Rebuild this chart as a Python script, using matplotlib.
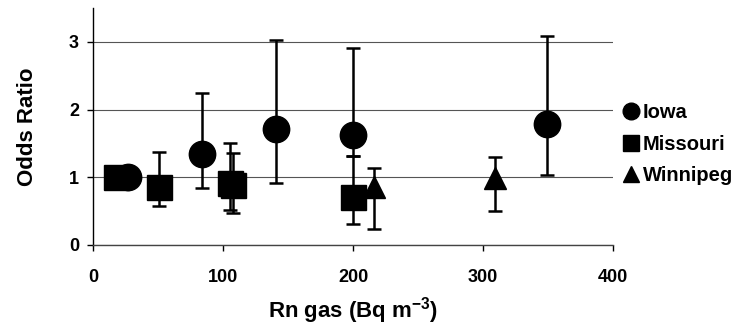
import matplotlib
matplotlib.use("Agg")
import matplotlib.pyplot as plt
from matplotlib.lines import Line2D

# ----
# Data
# ----
iowa_x = [27, 84, 141, 200, 349]
iowa_or = [1.00, 1.34, 1.72, 1.62, 1.79]
iowa_lo = [1.00, 0.84, 0.92, 1.31, 1.04]
iowa_hi = [1.00, 2.24, 3.03, 2.91, 3.09]

missouri_x = [18, 51, 105, 108, 200]
missouri_or = [1.00, 0.86, 0.91, 0.88, 0.71]
missouri_lo = [1.00, 0.57, 0.51, 0.47, 0.31]
missouri_hi = [1.00, 1.37, 1.50, 1.36, 1.31]

winnipeg_x = [216, 309]
winnipeg_or = [0.86, 0.99]
winnipeg_lo = [0.24, 0.50]
winnipeg_hi = [1.13, 1.30]

x_ticks = [0, 100, 200, 300, 400]
y_ticks = [0, 1, 2, 3]

plt.rcParams["font.family"] = ["Liberation Sans", "DejaVu Sans"]
plt.rcParams["font.weight"] = "bold"
plt.rcParams["mathtext.fontset"] = "custom"
plt.rcParams["mathtext.rm"] = "Liberation Sans:bold"
plt.rcParams["mathtext.default"] = "rm"

fig = plt.figure(figsize=(7.37, 3.33), dpi=100)
ax = fig.add_axes([0.1262, 0.2643, 0.7056, 0.7117])

series = [
    ("Iowa", "o", 19, iowa_x, iowa_or, iowa_lo, iowa_hi),
    ("Missouri", "s", 18, missouri_x, missouri_or, missouri_lo, missouri_hi),
    ("Winnipeg", "^", 16, winnipeg_x, winnipeg_or, winnipeg_lo, winnipeg_hi),
]

for name, marker, ms, xs, ors, los, his in series:
    yerr = [[o - l for o, l in zip(ors, los)], [h - o for o, h in zip(ors, his)]]
    ax.errorbar(xs, ors, yerr=yerr, fmt=marker, color="black", ms=ms,
                ecolor="black", elinewidth=1.8, capsize=4.7, capthick=1.8,
                zorder=3)

ax.set_xlim(0, 400)
ax.set_ylim(0, 3.5)
ax.set_xticks(x_ticks)
ax.set_yticks(y_ticks)
ax.yaxis.grid(True, color="#555555", linewidth=0.8)
ax.set_axisbelow(True)

for side in ["top", "right"]:
    ax.spines[side].set_visible(False)
ax.spines["left"].set_linewidth(1.0)
ax.spines["bottom"].set_linewidth(1.0)
ax.spines["bottom"].set_color("#444444")

ax.tick_params(axis="both", labelsize=13, length=4, width=1)
ax.tick_params(axis="x", pad=13)
ax.tick_params(axis="y", pad=6)
for lab in ax.get_xticklabels() + ax.get_yticklabels():
    lab.set_fontweight("bold")

ax.set_xlabel("Rn gas (Bq m$^{-3}$)", fontsize=16, fontweight="bold", labelpad=7)
ax.set_ylabel("Odds Ratio", fontsize=16, fontweight="bold", labelpad=22)

handles = [
    Line2D([], [], marker="o", color="black", linestyle="none", markersize=12),
    Line2D([], [], marker="s", color="black", linestyle="none", markersize=11.5),
    Line2D([], [], marker="^", color="black", linestyle="none", markersize=12),
]
ax.legend(handles, ["Iowa", "Missouri", "Winnipeg"], loc="center left",
          bbox_to_anchor=(1.019, 0.425), frameon=False, borderpad=0,
          borderaxespad=0, handlelength=0.8, handletextpad=0.2,
          labelspacing=0.62, prop={"size": 14.5, "weight": "bold"})

plt.savefig("out.png", dpi=100)
